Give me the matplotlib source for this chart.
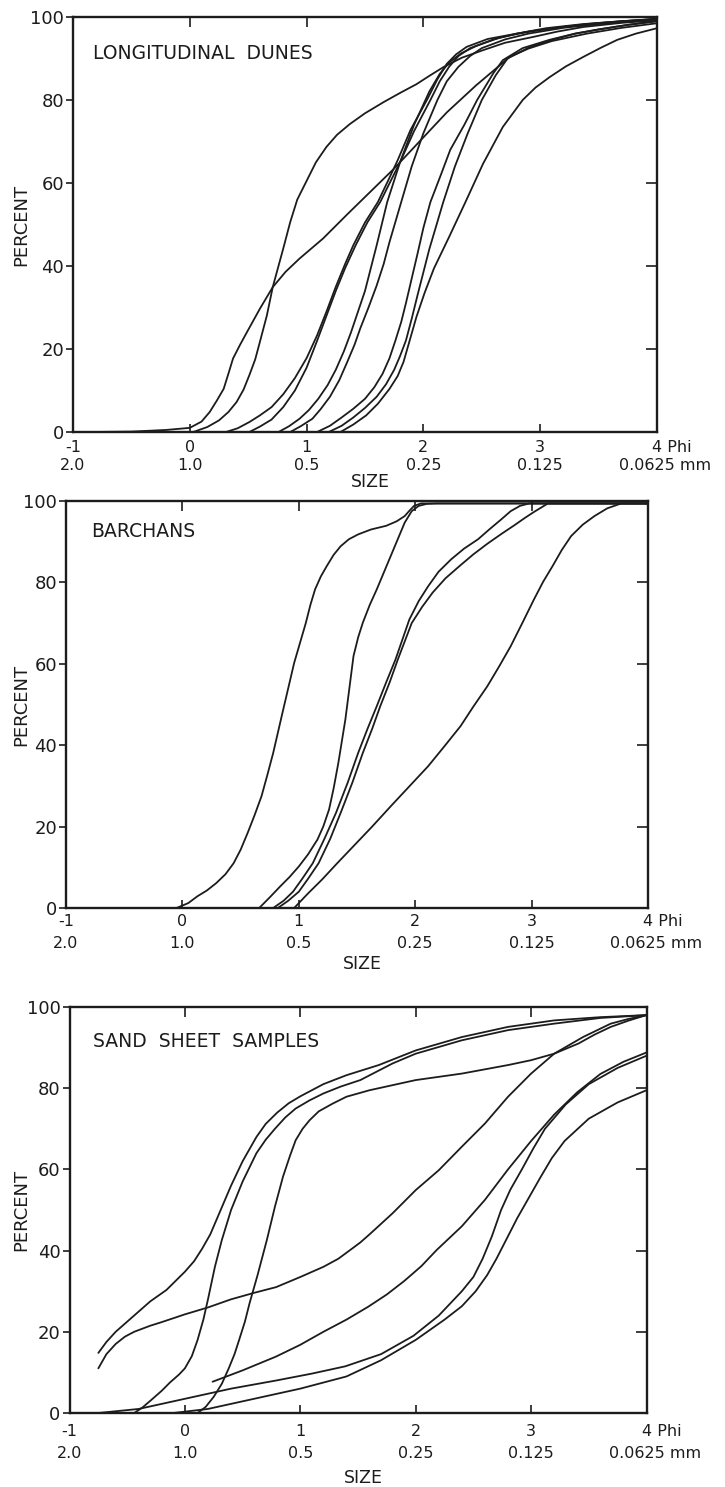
import matplotlib
matplotlib.use("Agg")
import matplotlib.pyplot as plt

plt.rcParams['font.family'] = ['DejaVu Sans']

# ---------------- axis labels / ticks ----------------
PHI_TICKS = [-1, 0, 1, 2, 3]
PHI_LABELS = ["-1", "0", "1", "2", "3"]
MM_LABELS = ["2.0", "1.0", "0.5", "0.25", "0.125"]
LAST_PHI = "4 Phi"
LAST_MM = "0.0625 mm"
PCT_TICKS = [0, 20, 40, 60, 80, 100]
PANEL_TITLES = ["LONGITUDINAL  DUNES", "BARCHANS", "SAND  SHEET  SAMPLES"]

# ---------------- Longitudinal dunes (phi, cumulative %) ----------------
LD_S_X = [-0.85, -0.5, -0.2, 0.0, 0.1, 0.17, 0.23, 0.29, 0.33, 0.37, 0.43, 0.49, 0.6, 0.71,
          0.82, 0.94, 1.14, 1.35, 1.55, 1.75, 1.95, 2.2, 2.45, 2.74, 2.9, 3.1, 3.4, 3.7, 4.0]
LD_S_Y = [0, 0.1, 0.5, 1.0, 2.5, 4.8, 7.5, 10.4, 14, 17.7, 21, 24.1, 29.7, 34.9,
          38.6, 41.8, 46.6, 52.5, 58, 63.5, 69.5, 77, 83.5, 90.4, 92.4, 94.2, 96, 97.4, 98.5]
LD_A_X = [0.03, 0.15, 0.25, 0.33, 0.4, 0.46, 0.51, 0.56, 0.6, 0.66, 0.71, 0.8, 0.86, 0.92, 1.0,
          1.08, 1.17, 1.26, 1.37, 1.5, 1.66, 1.8, 1.94, 2.05, 2.17, 2.33, 2.51, 2.7, 2.94, 3.15,
          3.37, 3.7, 4.0]
LD_A_Y = [0, 1.2, 2.8, 4.8, 7.2, 10.2, 13.7, 17.5, 21.7, 28.1, 34.9, 44.2, 50.6, 56, 60.5,
          65, 68.7, 71.6, 74.2, 76.8, 79.5, 81.7, 83.8, 85.8, 87.9, 90.2, 92, 93.8, 95.2, 96.5,
          97.6, 98.6, 99.2]
LD_B_X = [0.31, 0.41, 0.51, 0.6, 0.7, 0.8, 0.9, 1.0, 1.09, 1.17, 1.25, 1.33, 1.4, 1.5, 1.61,
          1.7, 1.78, 1.89, 2.03, 2.12, 2.2, 2.28, 2.37, 2.55, 2.8, 3.05, 3.37, 3.7, 4.0]
LD_B_Y = [0, 0.9, 2.4, 4.0, 6, 9.1, 13, 17.8, 23.3, 29, 35, 40.5, 45, 50.5, 55.4,
          60.7, 65.5, 72.8, 80, 85, 88.7, 91, 92.8, 94.7, 96, 97.3, 98.3, 99.0, 99.5]
LD_C_X = [0.51, 0.6, 0.7, 0.8, 0.9, 1.0, 1.09, 1.17, 1.25, 1.33, 1.42, 1.52, 1.63, 1.72, 1.8,
          1.92, 2.06, 2.14, 2.22, 2.3, 2.4, 2.6, 2.8, 3.1, 3.4, 3.7, 4.0]
LD_C_Y = [0, 1.3, 3, 6, 10, 15.5, 22, 28, 34, 39.5, 45, 50.5, 55.4, 60.5, 65,
          72.5, 80, 84.5, 88, 90.6, 92.5, 94.6, 96, 97.3, 98.3, 99.0, 99.5]
LD_D_X = [0.76, 0.85, 0.94, 1.02, 1.1, 1.18, 1.25, 1.32, 1.38, 1.44, 1.5, 1.55, 1.6, 1.69, 1.8,
          1.92, 2.05, 2.14, 2.22, 2.32, 2.45, 2.65, 2.9, 3.2, 3.5, 4.0]
LD_D_Y = [0, 1.4, 3.2, 5.3, 8, 11.3, 15, 19.5, 24, 29, 34, 39.5, 45, 55.4, 65,
          74, 82, 86.3, 89, 91.2, 93, 95, 96.5, 97.6, 98.5, 99.6]
LD_E_X = [0.86, 0.95, 1.05, 1.12, 1.2, 1.28, 1.35, 1.41, 1.46, 1.53, 1.6, 1.66, 1.71, 1.81, 1.9,
          2.0, 2.12, 2.2, 2.3, 2.4, 2.5, 2.7, 2.9, 3.2, 3.5, 4.0]
LD_E_Y = [0, 1.4, 3.2, 5.5, 8.5, 12.5, 17, 21, 25, 30, 35.3, 40.5, 45.8, 55.4, 64,
          72, 80, 84.5, 88, 90.6, 92.5, 94.6, 96, 97.4, 98.3, 99.5]
LD_F_X = [1.09, 1.2, 1.3, 1.4, 1.5, 1.58, 1.65, 1.71, 1.76, 1.81, 1.85, 1.9, 1.95, 2.0, 2.06,
          2.15, 2.23, 2.35, 2.46, 2.6, 2.68, 2.85, 3.08, 3.3, 3.5, 3.75, 4.0]
LD_F_Y = [0, 1.5, 3.5, 5.6, 8, 10.8, 14, 17.8, 22, 26.5, 31, 37, 43, 49.2, 55.4,
          62, 68, 74, 80, 86.5, 89.6, 92.5, 94.5, 96, 97, 98.1, 99]
LD_G_X = [1.19, 1.3, 1.4, 1.5, 1.6, 1.68, 1.75, 1.8, 1.85, 1.9, 1.95, 2.0, 2.05, 2.11, 2.17,
          2.27, 2.38, 2.5, 2.62, 2.72, 2.9, 3.1, 3.3, 3.5, 3.75, 4.0]
LD_G_Y = [0, 1.5, 3.5, 5.8, 8.5, 11.5, 15, 18.3, 22, 27.3, 33, 38.5, 44, 49.7, 55.4,
          64, 72, 80, 86, 90, 92.6, 94.5, 96, 97, 98.1, 99]
LD_H_X = [1.29, 1.4, 1.51, 1.61, 1.71, 1.78, 1.83, 1.88, 1.94, 2.01, 2.09, 2.22, 2.36, 2.51,
          2.68, 2.85, 2.96, 3.08, 3.22, 3.37, 3.52, 3.66, 3.82, 4.0]
LD_H_Y = [0, 1.8, 4, 6.8, 10.4, 13.5, 16.9, 21.8, 27.7, 33.5, 39.4, 47, 55.4, 64.6,
          73.5, 80, 83, 85.5, 88.1, 90.4, 92.6, 94.5, 96, 97.3]

# ---------------- Barchans ----------------
BA_1_X = [-0.05, 0.05, 0.13, 0.21, 0.29, 0.37, 0.44, 0.5, 0.56, 0.62, 0.68, 0.73, 0.78, 0.86,
          0.96, 1.06, 1.1, 1.14, 1.19, 1.24, 1.3, 1.36, 1.43, 1.51, 1.62, 1.75, 1.84, 1.91,
          1.95, 1.99, 2.05, 4.0]
BA_1_Y = [0, 1.2, 2.9, 4.3, 6.1, 8.3, 11, 14.3, 18.4, 22.8, 27.5, 32.7, 38.1, 48,
          60.2, 70, 74.5, 78.3, 81.5, 84, 86.8, 88.9, 90.6, 91.8, 93.0, 93.9, 95, 96.3,
          97.6, 98.8, 99.4, 99.4]
BA_2_X = [0.66, 0.75, 0.84, 0.92, 1.0, 1.08, 1.16, 1.21, 1.26, 1.3, 1.34, 1.37, 1.4, 1.43,
          1.47, 1.51, 1.55, 1.61, 1.67, 1.79, 1.91, 1.97, 2.03, 2.1, 2.19, 4.0]
BA_2_Y = [0, 2.6, 5.3, 7.6, 10.2, 13.2, 16.8, 20, 24.2, 29.5, 35.7, 41, 46.3, 53,
          61.9, 66.5, 70.1, 74.5, 78.3, 86.5, 94.7, 97.5, 98.8, 99.3, 99.4, 99.4]
BA_3_X = [0.78, 0.87, 0.95, 1.03, 1.12, 1.22, 1.32, 1.42, 1.51, 1.59, 1.67, 1.75, 1.83, 1.95,
          2.03, 2.11, 2.2, 2.31, 2.42, 2.54, 2.64, 2.74, 2.82, 2.9, 2.98, 4.0]
BA_3_Y = [0, 1.8, 4, 7.2, 11, 17, 23.4, 30.8, 38.1, 44, 49.6, 55.4, 61, 70.9,
          75.4, 79, 82.6, 85.7, 88.3, 90.6, 93.1, 95.5, 97.5, 98.8, 99.4, 99.4]
BA_4_X = [0.82, 0.91, 1.0, 1.08, 1.17, 1.27, 1.36, 1.46, 1.55, 1.63, 1.7, 1.78, 1.85, 1.97,
          2.06, 2.15, 2.26, 2.38, 2.5, 2.62, 2.74, 2.85, 2.94, 3.02, 3.1, 3.14, 4.0]
BA_4_Y = [0, 1.8, 4, 7.2, 11, 17, 23.4, 30.8, 38.1, 44, 49.6, 55.4, 61, 70,
          74, 77.5, 81, 84, 86.9, 89.5, 91.9, 94, 95.8, 97.3, 98.7, 99.4, 99.4]
BA_5_X = [0.96, 1.08, 1.2, 1.33, 1.47, 1.63, 1.79, 1.95, 2.11, 2.25, 2.39, 2.5, 2.62, 2.72,
          2.82, 2.92, 3.02, 3.1, 3.18, 3.26, 3.34, 3.44, 3.54, 3.65, 3.77, 4.0]
BA_5_Y = [0, 3.6, 7, 11, 15.2, 20, 25, 29.9, 34.8, 39.7, 44.7, 49.5, 54.5, 59.3,
          64.3, 70, 75.8, 80.2, 84, 88, 91.4, 94.2, 96.3, 98.2, 99.4, 99.4]

# ---------------- Sand sheet samples ----------------
SS_1_X = [-0.75, -0.68, -0.6, -0.5, -0.4, -0.3, -0.16, 0.0, 0.08, 0.15, 0.22, 0.28, 0.34, 0.4,
          0.5, 0.62, 0.7, 0.8, 0.9, 1.0, 1.2, 1.4, 1.68, 2.0, 2.4, 2.8, 3.2, 3.6, 4.0]
SS_1_Y = [14.8, 17.5, 20, 22.5, 25, 27.5, 30.3, 34.8, 37.4, 40.5, 44, 48, 52, 56,
          62, 68, 71.2, 74, 76.3, 78, 81, 83.2, 85.7, 89.3, 92.6, 95.1, 96.7, 97.5, 98]
SS_2_X = [-0.75, -0.68, -0.6, -0.52, -0.44, -0.3, -0.21, 0.0, 0.2, 0.4, 0.6, 0.79, 1.0, 1.2,
          1.33, 1.43, 1.52, 1.6, 1.7, 1.8, 2.0, 2.2, 2.4, 2.6, 2.8, 3.0, 3.2, 3.45, 3.69, 3.85, 4.0]
SS_2_Y = [11, 14.5, 17, 18.8, 20, 21.5, 22.3, 24.3, 26, 28, 29.6, 31, 33.5, 36,
          38, 40.1, 42, 44, 46.6, 49.2, 54.9, 59.8, 65.6, 71.3, 77.9, 83.6, 88.5, 92.6, 95.9,
          97.1, 98]
SS_3_X = [-0.44, -0.37, -0.3, -0.2, -0.13, -0.05, 0.0, 0.06, 0.11, 0.16, 0.2, 0.26, 0.32, 0.4,
          0.5, 0.62, 0.7, 0.78, 0.87, 0.96, 1.08, 1.2, 1.35, 1.52, 1.8, 2.0, 2.4, 2.8, 3.2, 3.6, 4.0]
SS_3_Y = [0, 1.3, 3, 5.5, 7.5, 9.5, 11, 14, 18, 23, 28, 36, 42.6, 50,
          57, 64, 67.3, 70, 72.8, 75, 77, 78.7, 80.4, 82, 86.1, 88.5, 91.8, 94.3, 95.9, 97.3, 98]
SS_4_X = [0.11, 0.18, 0.25, 0.32, 0.38, 0.43, 0.47, 0.52, 0.56, 0.63, 0.71, 0.78, 0.85, 0.91,
          0.96, 1.02, 1.08, 1.16, 1.28, 1.4, 1.6, 2.0, 2.4, 2.8, 3.0, 3.2, 3.41, 3.55, 3.69,
          3.85, 4.0]
SS_4_Y = [0, 1.5, 4, 7.2, 11, 14.5, 18, 22.5, 27, 34, 42.6, 50.8, 58.2, 63.3,
          67.2, 70, 72.1, 74.3, 76.2, 77.9, 79.5, 82, 83.6, 85.7, 86.9, 88.5, 91, 93.2, 95.1,
          96.7, 98]
SS_5_X = [0.24, 0.5, 0.79, 1.0, 1.2, 1.4, 1.59, 1.75, 1.9, 2.05, 2.18, 2.4, 2.6, 2.8, 3.0, 3.2,
          3.4, 3.6, 3.8, 4.0]
SS_5_Y = [7.7, 10.5, 13.9, 16.8, 20, 23, 26.2, 29.2, 32.5, 36.2, 40.1, 46, 52.5, 60, 67, 73.5,
          79, 83.5, 86.5, 88.8]
SS_6_X = [-0.75, -0.4, 0.0, 0.4, 0.79, 1.1, 1.39, 1.7, 1.98, 2.2, 2.4, 2.5, 2.58, 2.66, 2.74,
          2.82, 2.92, 3.02, 3.12, 3.3, 3.5, 3.75, 4.0]
SS_6_Y = [0, 1, 3.5, 6, 8, 9.7, 11.5, 14.5, 19, 24, 30, 33.5, 38, 43.5, 50,
          55, 60, 65.2, 70, 76, 81, 85, 88]
SS_7_X = [-0.1, 0.2, 0.6, 1.0, 1.4, 1.7, 2.0, 2.25, 2.4, 2.52, 2.62, 2.7, 2.79, 2.88, 2.98,
          3.08, 3.18, 3.29, 3.5, 3.75, 4.0]
SS_7_Y = [0, 1, 3.5, 6, 9, 13, 18, 23, 26.3, 30, 34, 38, 43, 48, 53,
          58, 62.8, 67, 72.5, 76.5, 79.5]

PANEL_CURVES = [
    [(LD_S_X, LD_S_Y), (LD_A_X, LD_A_Y), (LD_B_X, LD_B_Y), (LD_C_X, LD_C_Y), (LD_D_X, LD_D_Y),
     (LD_E_X, LD_E_Y), (LD_F_X, LD_F_Y), (LD_G_X, LD_G_Y), (LD_H_X, LD_H_Y)],
    [(BA_1_X, BA_1_Y), (BA_2_X, BA_2_Y), (BA_3_X, BA_3_Y), (BA_4_X, BA_4_Y), (BA_5_X, BA_5_Y)],
    [(SS_1_X, SS_1_Y), (SS_2_X, SS_2_Y), (SS_3_X, SS_3_Y), (SS_4_X, SS_4_Y), (SS_5_X, SS_5_Y),
     (SS_6_X, SS_6_Y), (SS_7_X, SS_7_Y)],
]

# ---------------- layout (pixels of a 725 x 1487 canvas) ----------------
W, H = 725.0, 1487.0
# left, right, top, bottom in pixels
PANEL_BOX = [(73, 657, 17, 432), (66, 648, 501, 908), (69.5, 646.5, 1007, 1413)]
# offsets below axis (px) for phi line, mm line, SIZE
LABEL_OFF = [(15, 33, 50), (14, 36, 56), (18, 40, 65)]
TITLE_POS = [(-0.83, 91.3), (-0.78, 92.4), (-0.80, 91.4)]

INK = '#1c1c1c'
PX = 72.0 / 100.0  # points per pixel

fig = plt.figure(figsize=(W / 100, H / 100), dpi=100)
fig.patch.set_facecolor('white')

for i in range(3):
    l, r, t, b = PANEL_BOX[i]
    ax = fig.add_axes([l / W, 1 - b / H, (r - l) / W, (b - t) / H])
    ax.set_xlim(-1, 4)
    ax.set_ylim(0, 100)
    for sp in ax.spines.values():
        sp.set_linewidth(1.7)
        sp.set_color(INK)

    for xs, ys in PANEL_CURVES[i]:
        ax.plot(xs, ys, color=INK, lw=1.3, solid_joinstyle='round',
                solid_capstyle='round', clip_on=False)

    # y ticks (left, outward, labelled)
    ax.set_yticks(PCT_TICKS)
    ax.set_yticklabels([str(v) for v in PCT_TICKS])
    ax.tick_params(axis='y', direction='out', length=5, width=1.2, pad=1.5,
                   labelsize=13, colors=INK)
    # x ticks (bottom, inward, labels drawn manually)
    ax.set_xticks([0, 1, 2, 3])
    ax.tick_params(axis='x', direction='in', length=6, width=1.2, labelbottom=False, colors=INK)

    # top ticks inward
    sx = ax.secondary_xaxis('top')
    sx.set_xticks([0, 1, 2, 3])
    sx.tick_params(direction='in', length=7, width=1.2, labeltop=False, colors=INK)
    sx.spines['top'].set_visible(False)
    # right ticks inward
    sy = ax.secondary_yaxis('right')
    sy.set_yticks([20, 40, 60, 80])
    sy.tick_params(direction='in', length=8, width=1.2, labelright=False, colors=INK)
    sy.spines['right'].set_visible(False)

    o1, o2, o3 = LABEL_OFF[i]
    xform = ax.get_xaxis_transform()
    for v, p, m in zip(PHI_TICKS, PHI_LABELS, MM_LABELS):
        ax.annotate(p, xy=(v, 0), xycoords=xform, xytext=(0, -o1 * PX),
                    textcoords='offset points', ha='center', va='center',
                    fontsize=11.5, color=INK, annotation_clip=False)
        ax.annotate(m, xy=(v, 0), xycoords=xform, xytext=(0, -o2 * PX),
                    textcoords='offset points', ha='center', va='center',
                    fontsize=11.5, color=INK, annotation_clip=False)
    ax.annotate(LAST_PHI, xy=(3.96, 0), xycoords=xform, xytext=(0, -o1 * PX),
                textcoords='offset points', ha='left', va='center',
                fontsize=11.5, color=INK, annotation_clip=False)
    ax.annotate(LAST_MM, xy=(4.07, 0), xycoords=xform, xytext=(0, -o2 * PX),
                textcoords='offset points', ha='center', va='center',
                fontsize=11.5, color=INK, annotation_clip=False)
    ax.annotate("SIZE", xy=(1.55, 0), xycoords=xform, xytext=(0, -o3 * PX),
                textcoords='offset points', ha='center', va='center',
                fontsize=12.5, color=INK, annotation_clip=False)

    tx, ty = TITLE_POS[i]
    ax.text(tx, ty, PANEL_TITLES[i], ha='left', va='center', fontsize=13.5, color=INK)

    fig.text(21 / W, 1 - ((t + b) / 2) / H, "PERCENT", rotation=90,
             ha='center', va='center', fontsize=13, color=INK)

fig.savefig("out.png", dpi=100, facecolor='white')
